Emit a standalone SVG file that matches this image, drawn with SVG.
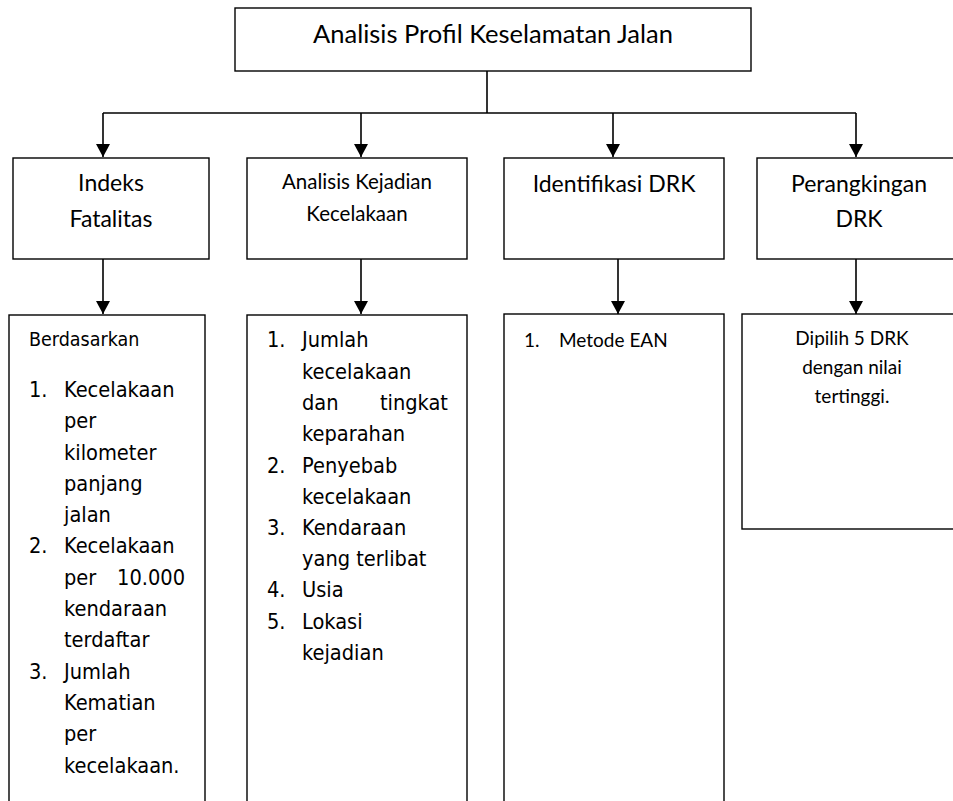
<svg xmlns="http://www.w3.org/2000/svg" width="953" height="801" viewBox="0 0 953 801">
<defs>
<marker id="ah" markerWidth="14" markerHeight="14" refX="13" refY="7" orient="auto" markerUnits="userSpaceOnUse" viewBox="0 0 14 14">
<path d="M0,0 L13,7 L0,14 Z" fill="#000"/>
</marker>
</defs>
<style>
.box{fill:#fff;stroke:#000;stroke-width:1.4}
.con{fill:none;stroke:#000;stroke-width:1.6}
.cal{font-family:Lato,"Open Sans","Liberation Sans",sans-serif;fill:#000}
.tah{font-family:"DejaVu Sans Condensed","DejaVu Sans",sans-serif;font-stretch:condensed;fill:#000;font-size:21.6px}
.small{font-size:19.5px}
</style>
<rect width="953" height="801" fill="#fff"/>
<g id="connectors">
<path class="con" d="M487,71 V113"/>
<path class="con" d="M103,113 H856"/>
<path class="con" d="M103,113 V157" marker-end="url(#ah)"/>
<path class="con" d="M361,113 V157" marker-end="url(#ah)"/>
<path class="con" d="M613,113 V157" marker-end="url(#ah)"/>
<path class="con" d="M856,113 V157" marker-end="url(#ah)"/>
<path class="con" d="M103,259 V314" marker-end="url(#ah)"/>
<path class="con" d="M361,259 V314" marker-end="url(#ah)"/>
<path class="con" d="M618,259 V314" marker-end="url(#ah)"/>
<path class="con" d="M856,259 V314" marker-end="url(#ah)"/>
</g>
<g id="root">
<rect class="box" x="235" y="8" width="516" height="63"/>
<text class="cal" x="493" y="43" font-size="25.5" text-anchor="middle">Analisis Profil Keselamatan Jalan</text>
</g>
<g id="indeks-fatalitas">
<rect class="box" x="13" y="158" width="196" height="101"/>
<text class="cal" x="111" y="191" font-size="23" text-anchor="middle">Indeks</text>
<text class="cal" x="111" y="227" font-size="23" text-anchor="middle">Fatalitas</text>
</g>
<g id="analisis-kejadian">
<rect class="box" x="247" y="158" width="220" height="101"/>
<text class="cal" x="357" y="189" font-size="20.5" text-anchor="middle">Analisis Kejadian</text>
<text class="cal" x="357" y="221" font-size="20.5" text-anchor="middle">Kecelakaan</text>
</g>
<g id="identifikasi-drk">
<rect class="box" x="504" y="158" width="220" height="101"/>
<text class="cal" x="614" y="192" font-size="23" text-anchor="middle">Identifikasi DRK</text>
</g>
<g id="perangkingan-drk">
<rect class="box" x="757" y="158" width="210" height="101"/>
<text class="cal" x="859" y="192" font-size="23" text-anchor="middle">Perangkingan</text>
<text class="cal" x="859" y="227" font-size="23" text-anchor="middle">DRK</text>
</g>
<g id="list-fatalitas">
<rect class="box" x="9" y="315" width="196" height="510"/>
<text class="tah small" x="29" y="346">Berdasarkan</text>
<text class="tah" x="29" y="397">1.</text>
<text class="tah" x="64" y="397">Kecelakaan</text>
<text class="tah" x="64" y="428">per</text>
<text class="tah" x="64" y="460">kilometer</text>
<text class="tah" x="64" y="491">panjang</text>
<text class="tah" x="64" y="522">jalan</text>
<text class="tah" x="29" y="553">2.</text>
<text class="tah" x="64" y="553">Kecelakaan</text>
<text class="tah" x="64" y="585">per</text>
<text class="tah" x="185" y="585" text-anchor="end">10.000</text>
<text class="tah" x="64" y="616">kendaraan</text>
<text class="tah" x="64" y="647">terdaftar</text>
<text class="tah" x="29" y="679">3.</text>
<text class="tah" x="64" y="679">Jumlah</text>
<text class="tah" x="64" y="710">Kematian</text>
<text class="tah" x="64" y="741">per</text>
<text class="tah" x="64" y="773">kecelakaan.</text>
</g>
<g id="list-kejadian">
<rect class="box" x="247" y="315" width="220" height="510"/>
<text class="tah" x="267" y="347">1.</text>
<text class="tah" x="302" y="347">Jumlah</text>
<text class="tah" x="302" y="379">kecelakaan</text>
<text class="tah" x="302" y="410">dan</text>
<text class="tah" x="448" y="410" text-anchor="end">tingkat</text>
<text class="tah" x="302" y="441">keparahan</text>
<text class="tah" x="267" y="473">2.</text>
<text class="tah" x="302" y="473">Penyebab</text>
<text class="tah" x="302" y="504">kecelakaan</text>
<text class="tah" x="267" y="535">3.</text>
<text class="tah" x="302" y="535">Kendaraan</text>
<text class="tah" x="302" y="566">yang terlibat</text>
<text class="tah" x="267" y="597">4.</text>
<text class="tah" x="302" y="597">Usia</text>
<text class="tah" x="267" y="629">5.</text>
<text class="tah" x="302" y="629">Lokasi</text>
<text class="tah" x="302" y="660">kejadian</text>
</g>
<g id="list-drk">
<rect class="box" x="504" y="314" width="220" height="510"/>
<text class="cal" x="524" y="347" font-size="19">1.</text>
<text class="cal" x="559" y="347" font-size="19">Metode EAN</text>
</g>
<g id="pilih-drk">
<rect class="box" x="742" y="314" width="225" height="215"/>
<text class="cal" x="852" y="345" font-size="19" text-anchor="middle">Dipilih 5 DRK</text>
<text class="cal" x="852" y="374" font-size="19" text-anchor="middle">dengan nilai</text>
<text class="cal" x="852" y="403" font-size="19" text-anchor="middle">tertinggi.</text>
</g>
</svg>
